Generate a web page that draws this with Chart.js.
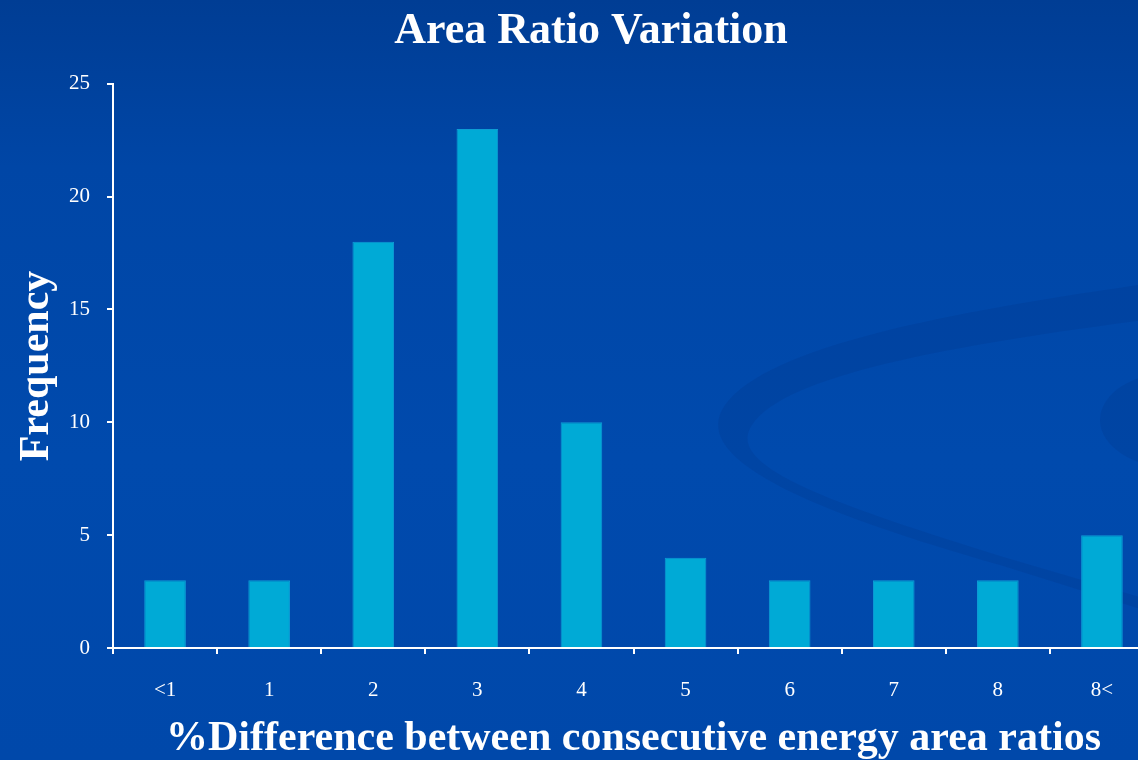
<!DOCTYPE html>
<html>
<head>
<meta charset="utf-8">
<script src="https://cdn.jsdelivr.net/npm/chart.js@4"></script>
<style>
  html, body { margin: 0; padding: 0; overflow: hidden; }
  body {
    width: 1138px; height: 760px;
    background: linear-gradient(#003d94 0%, #0046a6 22%, #004aad 60%, #0048aa 100%);
  }
  #wrap { position: absolute; left: 0; top: 0; width: 1154px; height: 760px; }
</style>
</head>
<body>
<div id="wrap"><canvas id="myChart"></canvas></div>
<script>
// DATA
const categories = ["<1", "1", "2", "3", "4", "5", "6", "7", "8", "8<"];
const frequency = [3, 3, 18, 23, 10, 4, 3, 3, 3, 5];
const yTicks = [0, 5, 10, 15, 20, 25];

const serif = "'Liberation Serif', 'DejaVu Serif', serif";

// faint swirl in the background, like the slide template
const swirl = {
  id: "swirl",
  beforeDraw(chart) {
    const ctx = chart.ctx;
    ctx.save();
    ctx.fillStyle = "rgba(0, 35, 110, 0.13)";
    ctx.beginPath();
    ctx.moveTo(1160, 282);
    ctx.bezierCurveTo(950, 312, 770, 345, 725, 405);
    ctx.bezierCurveTo(690, 455, 790, 505, 1000, 565);
    ctx.lineTo(1160, 615);
    ctx.lineTo(1160, 603);
    ctx.lineTo(1000, 556);
    ctx.bezierCurveTo(820, 500, 725, 465, 752, 425);
    ctx.bezierCurveTo(785, 375, 950, 345, 1160, 318);
    ctx.closePath();
    ctx.fill();
    ctx.beginPath();
    ctx.ellipse(1175, 420, 75, 48, 0, 0, Math.PI * 2);
    ctx.fill();
    ctx.restore();
  }
};

const barCanvas = document.getElementById("myChart");
const barChart = new Chart(barCanvas, {
  type: "bar",
  data: {
    labels: categories,
    datasets: [{
      label: "Frequency",
      data: frequency,
      backgroundColor: "#00aad6",
      borderColor: "#0d9dd5",
      borderWidth: 1,
      barPercentage: 0.4,
      categoryPercentage: 1.0
    }]
  },
  options: {
    responsive: true,
    maintainAspectRatio: false,
    animation: false,
    layout: {
      padding: { left: 28, right: 0, top: 0, bottom: 0 }
    },
    scales: {
      y: {
        min: 0,
        max: 25,
        afterBuildTicks: (scale) => {
          scale.ticks = yTicks.map(v => ({ value: v }));
        },
        afterFit: (scale) => { scale.width = 85; },
        border: { color: "#ffffff", width: 2 },
        grid: {
          drawOnChartArea: false,
          color: "#ffffff",
          lineWidth: 2,
          tickLength: 6
        },
        ticks: {
          color: "#ffffff",
          padding: 17,
          font: { family: serif, size: 21 }
        },
        title: {
          display: true,
          text: "Frequency",
          color: "#ffffff",
          font: { family: serif, size: 42, weight: "bold", lineHeight: 1 },
          padding: { top: -12, bottom: 0 }
        }
      },
      x: {
        afterFit: (scale) => { scale.height = 112; },
        border: { color: "#ffffff", width: 2 },
        grid: {
          drawOnChartArea: false,
          color: "#ffffff",
          lineWidth: 2,
          tickLength: 6
        },
        ticks: {
          color: "#ffffff",
          padding: 24,
          font: { family: serif, size: 21 }
        },
        title: {
          display: true,
          text: "%Difference between consecutive energy area ratios",
          color: "#ffffff",
          font: { family: serif, size: 42, weight: "bold", lineHeight: 1 },
          padding: { top: 0, bottom: 0 }
        }
      }
    },
    plugins: {
      legend: { display: false },
      tooltip: { enabled: false },
      title: {
        display: true,
        text: "Area Ratio Variation",
        color: "#ffffff",
        font: { family: serif, size: 44, weight: "bold" },
        padding: { top: 5, bottom: 26 }
      }
    }
  },
  plugins: [swirl]
});
</script>
</body>
</html>
